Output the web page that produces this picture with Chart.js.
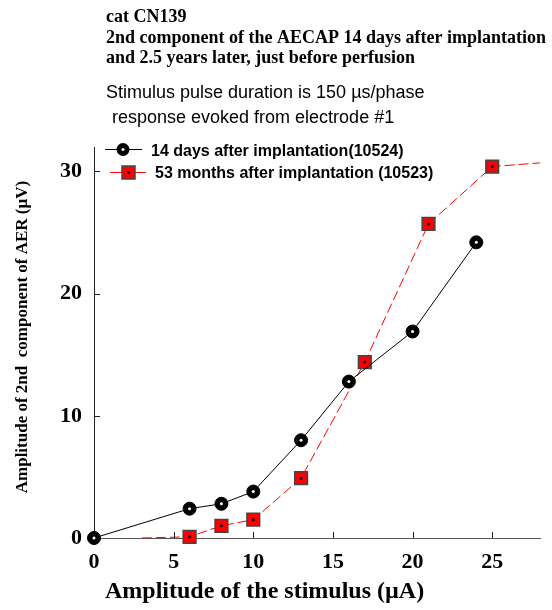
<!DOCTYPE html>
<html>
<head>
<meta charset="utf-8">
<script src="https://cdn.jsdelivr.net/npm/chart.js@4.4.1/dist/chart.umd.min.js"></script>
<style>
  html, body { margin: 0; padding: 0; background: #ffffff; }
  #wrap { width: 552px; height: 610px; }
</style>
</head>
<body>
<div id="wrap"><canvas id="c" width="552" height="610"></canvas></div>
<script>
// ---- data ----
const titleLines = [
  "cat CN139",
  "2nd component of the AECAP 14 days after implantation",
  "and 2.5 years later, just before perfusion"
];
const subtitleLines = [
  "Stimulus pulse duration is 150 \u00b5s/phase",
  "response evoked from electrode #1"
];
const xTitle = "Amplitude of the stimulus (\u00b5A)";
const yTitle = "Amplitude of 2nd  component of AER (\u00b5V)";

const seriesNames = [
  "14 days after implantation(10524)",
  "53 months after implantation (10523)"
];

// 14 days after implantation
const stim14d = [0, 6, 8, 10, 13, 16, 20, 24];
const amp14d  = [0, 2.4, 2.8, 3.8, 8.0, 12.8, 16.9, 24.2];

// 53 months after implantation (line extends beyond first/last measured points)
const stim53m = [3, 6, 8, 10, 13, 17, 21, 25, 28];
const amp53m  = [0, 0.1, 1.0, 1.5, 4.9, 14.4, 25.7, 30.4, 30.7];

const xTicks = [0, 5, 10, 15, 20, 25];
const yTicks = [0, 10, 20, 30];

// ---- drawing ----
const SERIF = "'Liberation Serif', 'Times New Roman', serif";
const SANS = "'Liberation Sans', Arial, sans-serif";

const toPts = (xs, ys) => xs.map((x, i) => ({ x: x, y: ys[i] }));

const decorPlugin = {
  id: 'decor',
  afterDatasetsDraw(chart) {
    const ctx = chart.ctx;
    // centre dots of markers
    chart.data.datasets.forEach((ds, di) => {
      const meta = chart.getDatasetMeta(di);
      meta.data.forEach((el, i) => {
        const r = typeof ds.pointRadius === 'function' ? ds.pointRadius({ dataIndex: i }) : ds.pointRadius;
        if (!r) return;
        ctx.save();
        ctx.beginPath();
        ctx.fillStyle = ds.dotColor;
        ctx.arc(el.x, el.y, 1.5, 0, Math.PI * 2);
        ctx.fill();
        ctx.restore();
      });
    });
  },
  afterDraw(chart) {
    const ctx = chart.ctx;
    const xs = chart.scales.x, ys = chart.scales.y;
    const area = chart.chartArea;
    ctx.save();
    // inward tick marks
    ctx.strokeStyle = '#222';
    ctx.lineWidth = 1;
    xTicks.forEach(v => {
      if (v === 0) return;
      const px = Math.round(xs.getPixelForValue(v)) + 0.5;
      ctx.beginPath();
      ctx.moveTo(px, area.bottom);
      ctx.lineTo(px, area.bottom - 6);
      ctx.stroke();
    });
    yTicks.forEach(v => {
      if (v === 0) return;
      const py = Math.round(ys.getPixelForValue(v)) + 0.5;
      ctx.beginPath();
      ctx.moveTo(area.left, py);
      ctx.lineTo(area.left + 6, py);
      ctx.stroke();
    });

    // titles
    ctx.fillStyle = '#000';
    ctx.textAlign = 'left';
    ctx.textBaseline = 'alphabetic';
    ctx.font = "bold 18px " + SERIF;
    ctx.fillText(titleLines[0], 106, 22);
    ctx.fillText(titleLines[1], 106, 42.5);
    ctx.fillText(titleLines[2], 106, 63);
    ctx.font = "18px " + SANS;
    ctx.fillText(subtitleLines[0], 106, 98);
    ctx.fillText(subtitleLines[1], 112, 123);

    // axis titles
    ctx.font = "bold 24px " + SERIF;
    ctx.fillText(xTitle, 105, 598);
    ctx.save();
    ctx.translate(27, 337);
    ctx.rotate(-Math.PI / 2);
    ctx.textAlign = 'center';
    ctx.font = "bold 17px " + SERIF;
    ctx.fillText(yTitle, 0, 0);
    ctx.restore();

    // legend
    const ds0 = chart.data.datasets[0], ds1 = chart.data.datasets[1];
    // entry 1
    ctx.strokeStyle = ds0.borderColor;
    ctx.lineWidth = 1;
    ctx.beginPath(); ctx.moveTo(105, 149.5); ctx.lineTo(142, 149.5); ctx.stroke();
    ctx.fillStyle = '#000';
    ctx.beginPath(); ctx.arc(123, 149.5, 6.5, 0, Math.PI * 2); ctx.fill();
    ctx.fillStyle = '#fff';
    ctx.beginPath(); ctx.arc(123, 149.5, 1.5, 0, Math.PI * 2); ctx.fill();
    // entry 2
    ctx.strokeStyle = ds1.borderColor;
    ctx.beginPath(); ctx.moveTo(110, 172.5); ctx.lineTo(146, 172.5); ctx.stroke();
    ctx.fillStyle = ds1.backgroundColor;
    ctx.fillRect(122, 166, 13, 13);
    ctx.strokeStyle = ds1.pointBorderColor;
    ctx.lineWidth = 1.5;
    ctx.strokeRect(122, 166, 13, 13);
    ctx.fillStyle = '#000';
    ctx.beginPath(); ctx.arc(128.5, 172.5, 1.5, 0, Math.PI * 2); ctx.fill();

    ctx.fillStyle = '#000';
    ctx.font = "bold 16px " + SANS;
    ctx.textBaseline = 'alphabetic';
    ctx.fillText(seriesNames[0], 151, 156);
    ctx.fillText(seriesNames[1], 155, 177.5);
    ctx.restore();
  }
};

new Chart(document.getElementById('c'), {
  type: 'line',
  data: {
    datasets: [
      {
        label: seriesNames[0],
        data: toPts(stim14d, amp14d),
        borderColor: '#000000',
        borderWidth: 1,
        backgroundColor: '#000000',
        pointBackgroundColor: '#000000',
        pointBorderColor: '#000000',
        pointBorderWidth: 1,
        pointRadius: 6.5,
        pointStyle: 'circle',
        dotColor: '#ffffff',
        clip: false,
        tension: 0
      },
      {
        label: seriesNames[1],
        data: toPts(stim53m, amp53m),
        borderColor: '#ff0000',
        borderWidth: 1,
        borderDash: [10, 4],
        backgroundColor: '#ff0000',
        pointBackgroundColor: '#ff0000',
        pointBorderColor: '#444444',
        pointBorderWidth: 1.5,
        pointRadius: (c) => (c.dataIndex === 0 || c.dataIndex === stim53m.length - 1) ? 0 : 9,
        pointStyle: 'rect',
        dotColor: '#000000',
        clip: false,
        tension: 0
      }
    ]
  },
  options: {
    responsive: false,
    animation: false,
    devicePixelRatio: 1,
    layout: { padding: { top: 147, right: 12, left: 0, bottom: 0 } },
    plugins: {
      legend: { display: false },
      title: { display: false },
      tooltip: { enabled: false }
    },
    scales: {
      x: {
        type: 'linear',
        min: 0,
        max: 28,
        afterBuildTicks: (s) => { s.ticks = xTicks.map(v => ({ value: v })); },
        afterFit: (s) => { s.height = 72; },
        grid: { display: false, drawTicks: false },
        border: { display: true, color: '#555555', width: 1 },
        ticks: {
          color: '#000',
          padding: 11,
          maxRotation: 0,
          font: { family: SERIF, size: 22, weight: 'bold' }
        }
      },
      y: {
        type: 'linear',
        min: 0,
        max: 32,
        afterBuildTicks: (s) => { s.ticks = yTicks.map(v => ({ value: v })); },
        afterFit: (s) => { s.width = 94; },
        grid: { display: false, drawTicks: false },
        border: { display: true, color: '#222222', width: 1 },
        ticks: {
          color: '#000',
          padding: 12,
          font: { family: SERIF, size: 22, weight: 'bold' }
        }
      }
    }
  },
  plugins: [decorPlugin]
});
</script>
</body>
</html>
